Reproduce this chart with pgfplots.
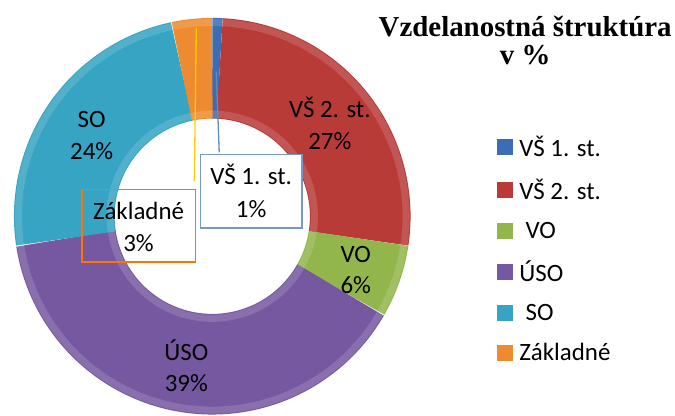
\documentclass[border=0pt]{standalone}
\usepackage{pgfplots}
\pgfplotsset{compat=1.18}
\usepackage{fontspec}
\setmainfont{Carlito}
\newfontfamily\titlefont{Liberation Serif}

% shares in percent
\def\vsA{0.8}
\def\vsB{26.6}
\def\vo{5.9}
\def\uso{39.3}
\def\so{24.1}
\def\zak{3.3}

\definecolor{cVSA}{HTML}{3A6DB3}
\definecolor{cVSB}{HTML}{B93B38}
\definecolor{cVO}{HTML}{92B64B}
\definecolor{cUSO}{HTML}{7658A0}
\definecolor{cSO}{HTML}{36A4C2}
\definecolor{cZAK}{HTML}{EE8A2F}

% ring segment: colour, start %, end %  (clockwise from the top)
\newcommand{\seg}[3]{%
  \addplot[draw=#1, line width=101pt, domain=#2:#3, samples=60, smooth,
    legend image code/.code={%
      \path[fill=#1, draw=none, line width=0pt] (0pt,-8pt) rectangle (16pt,8pt);
      \path[draw=none, line width=0pt] (0pt,0pt) -- (20pt,0pt);}]
    ({213+148.5*cos(90-3.6*x)},{200+148.5*sin(90-3.6*x)});}
% soft bevel along one rim of the ring: radius
\newcommand{\rim}[1]{%
  \addplot[forget plot, draw=white, draw opacity=0.14, line width=7pt, domain=0:100, samples=120, smooth]
    ({213+#1*cos(90-3.6*x)},{200+#1*sin(90-3.6*x)});}
\newcommand{\lab}[5]{%
  \node[anchor=base] at (axis cs:#1,#2) {#4};
  \node[anchor=base] at (axis cs:#1,#3) {#5};}

\begin{document}
\begin{tikzpicture}
\pgfmathsetmacro\cA{\vsA}
\pgfmathsetmacro\cB{\cA+\vsB}
\pgfmathsetmacro\cC{\cB+\vo}
\pgfmathsetmacro\cD{\cC+\uso}
\pgfmathsetmacro\cE{\cD+\so}
\pgfmathsetmacro\cF{\cE+\zak}
\begin{axis}[
    scale only axis,
    width=675pt, height=417pt,
    xmin=0, xmax=675, ymin=0, ymax=417,
    hide axis, clip=false,
    font=\fontsize{25}{31}\selectfont,
    legend cell align=left,
    legend style={at={(axis cs:496,285)}, anchor=north west, draw=none,
      fill=none, row sep=17.3pt, font=\fontsize{25}{30}\selectfont},
  ]
  \path (axis cs:0,0) rectangle (axis cs:675,417);
  \seg{cVSA}{0}{\cA}
  \seg{cVSB}{\cA}{\cB}
  \seg{cVO}{\cB}{\cC}
  \seg{cUSO}{\cC}{\cD}
  \seg{cSO}{\cD}{\cE}
  \seg{cZAK}{\cE}{\cF}
  \legend{VŠ 1. st., VŠ 2. st., \hspace{0.25em}VO, ÚSO, \hspace{0.25em}SO, Základné}
  \rim{194.5}
  \rim{102.5}

  % leader lines of the two call-outs
  \addplot[forget plot, draw=orange!40!yellow, line width=1.3pt] coordinates {(197,389) (195,235)};
  \addplot[forget plot, draw=cVSA!80!white, line width=1.3pt] coordinates {(217,345) (220,264)};

  \draw[draw=orange!90!red, line width=1.6pt] (axis cs:82,154) rectangle (axis cs:196,227);
  \draw[draw=cVSA!70!white, fill=white, line width=1.6pt] (axis cs:201,188) rectangle (axis cs:303,262);

  \lab{331}{299}{267}{VŠ 2. st.}{27\%}
  \lab{92}{289}{257}{SO}{24\%}
  \lab{357}{154}{122}{VO}{6\%}
  \lab{187}{55}{24}{ÚSO}{39\%}
  \lab{252}{232}{199}{VŠ 1. st.}{1\%}
  \lab{139}{197}{165}{Základné}{3\%}

  \node[anchor=base, font=\titlefont\bfseries\fontsize{29}{29}\selectfont] at (axis cs:527,380) {Vzdelanostná štruktúra};
  \node[anchor=base, font=\titlefont\bfseries\fontsize{29}{29}\selectfont] at (axis cs:527,352) {v \%};
\end{axis}
\end{tikzpicture}
\end{document}
